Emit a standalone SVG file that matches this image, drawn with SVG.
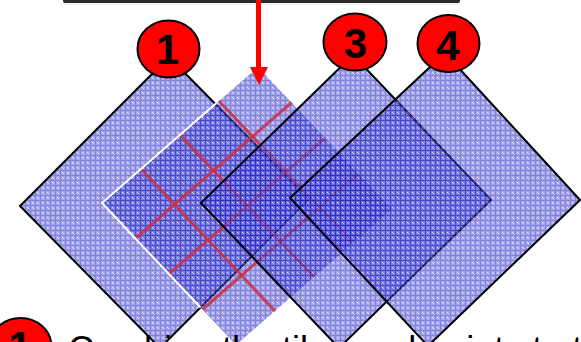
<svg xmlns="http://www.w3.org/2000/svg" width="581" height="342" viewBox="0 0 581 342">
<style>
.sq{fill:url(#grid);fill-opacity:0.55;stroke:#000;stroke-width:2;stroke-linejoin:miter}
.q{fill:url(#grid);fill-opacity:0.55;stroke:none}
.red{stroke:#cc2f3f;stroke-width:3;stroke-opacity:0.85;fill:none}
.badge{fill:#ff0000;stroke:#000;stroke-width:2}
.num{font-family:"Liberation Sans",Arial,sans-serif;font-weight:bold;font-size:42px;fill:#000;text-anchor:middle}
.cap{font-family:"Liberation Sans",Arial,sans-serif;font-size:36px;fill:#000}
</style>
<defs>
<pattern id="grid" patternUnits="userSpaceOnUse" width="5" height="5">
<rect width="5" height="5" fill="#5c5ce2"/>
<rect x="0" y="0" width="5" height="1" fill="#1c1cb4"/>
<rect x="0" y="0" width="1" height="5" fill="#1c1cb4"/>
<rect x="2" y="2" width="1" height="1" fill="#d8d8ff"/>
<rect x="3" y="3" width="1" height="1" fill="#b8b8f4"/>
</pattern>
</defs>
<rect width="581" height="342" fill="#fff"/>
<g id="topbar">
<rect x="63" y="-3" width="397" height="6" rx="2" fill="#2b2b2b"/>
<rect x="63" y="3" width="397" height="2" fill="#e8e8e8" opacity="0.6"/>
</g>
<g id="square1"><polygon class="sq" points="20,206 169,57 309,199 160,348"/></g>
<g id="square2">
<polygon class="q" points="102,203 258,67 392,209 236,345"/>
<g class="red">
<line x1="141" y1="169" x2="275" y2="311"/>
<line x1="180" y1="135" x2="314" y2="277"/>
<line x1="219" y1="101" x2="353" y2="243"/>
<line x1="135.5" y1="238.5" x2="291.5" y2="102.5"/>
<line x1="169" y1="274" x2="325" y2="138"/>
<line x1="202.5" y1="309.5" x2="358.5" y2="173.5"/>
</g>
<polyline points="216.5,103 102,203 200.5,307.5" fill="none" stroke="#fff" stroke-width="2"/>
</g>
<g id="square3"><polygon class="sq" points="201,203 353,55 491,200 339,348"/></g>
<g id="square4"><polygon class="sq" points="290,198 445,53 580,200 428,346"/></g>
<g id="connectors">
<rect x="256" y="-1" width="5" height="69" fill="#ff0000"/>
<polygon points="250,67 268,67 259,85" fill="#ff0000"/>
</g>
<g id="badge1"><ellipse class="badge" cx="168.5" cy="49" rx="31" ry="28.5"/><text class="num" x="167.5" y="64">1</text></g>
<g id="badge3"><ellipse class="badge" cx="355" cy="42" rx="31.5" ry="28.5"/><text class="num" x="355.5" y="58">3</text></g>
<g id="badge4"><ellipse class="badge" cx="448.5" cy="43.5" rx="31" ry="28.5"/><text class="num" x="448" y="60">4</text></g>
<g id="caption">
<ellipse class="badge" cx="20.5" cy="346.5" rx="31" ry="28.5"/><text class="num" x="20" y="361">1</text>
<text class="cap" x="68" y="362">Combine the tiles and points to t</text>
</g>
</svg>
